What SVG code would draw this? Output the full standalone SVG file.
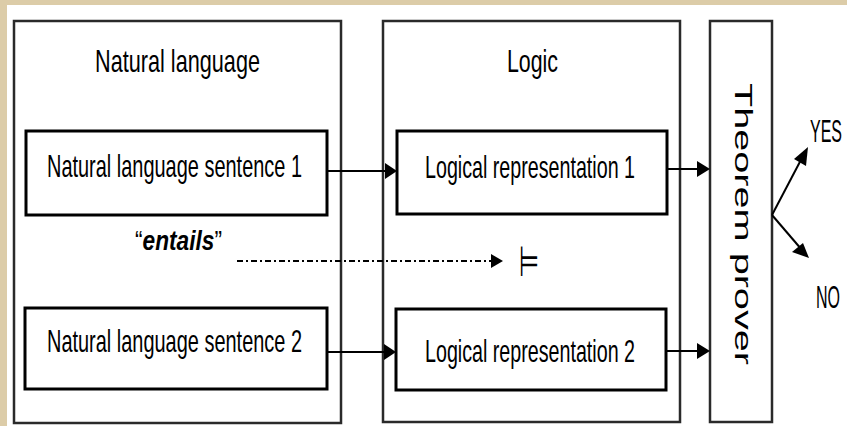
<svg xmlns="http://www.w3.org/2000/svg" width="847" height="426" viewBox="0 0 847 426">
<style>
.outer{fill:none;stroke:#2a2a2a;stroke-width:2.5}
.inner{fill:#fff;stroke:#000;stroke-width:3}
.t{font-family:"Liberation Sans",Arial,sans-serif;fill:#000}
.ln{stroke:#000;stroke-width:2;fill:none}
.hd{fill:#000}
</style>
<rect x="0" y="0" width="847" height="426" fill="#dccca8"/>
<rect x="7" y="5" width="840" height="421" fill="#fff"/>
<g id="nl-group">
<rect class="outer" x="14" y="21" width="327" height="402"/>
<text class="t" x="95" y="72" font-size="32" textLength="165" lengthAdjust="spacingAndGlyphs">Natural language</text>
</g>
<g id="logic-group">
<rect class="outer" x="383" y="21" width="297" height="401"/>
<text class="t" x="507" y="72" font-size="32" textLength="51" lengthAdjust="spacingAndGlyphs">Logic</text>
</g>
<g id="prover">
<rect class="outer" x="710" y="21" width="62" height="401"/>
<text class="t" transform="translate(735,83) rotate(90)" x="0" y="0" font-size="23" textLength="282" lengthAdjust="spacingAndGlyphs">Theorem  prover</text>
</g>
<g id="nl1">
<rect class="inner" x="26" y="131" width="301" height="84"/>
<text class="t" x="47" y="177" font-size="32" textLength="255" lengthAdjust="spacingAndGlyphs">Natural language sentence 1</text>
</g>
<g id="nl2">
<rect class="inner" x="25" y="308" width="302" height="81"/>
<text class="t" x="47" y="352" font-size="32" textLength="255" lengthAdjust="spacingAndGlyphs">Natural language sentence 2</text>
</g>
<g id="lr1">
<rect class="inner" x="397" y="131" width="270" height="83"/>
<text class="t" x="425" y="178" font-size="32" textLength="210" lengthAdjust="spacingAndGlyphs">Logical representation 1</text>
</g>
<g id="lr2">
<rect class="inner" x="396" y="309" width="270" height="81"/>
<text class="t" x="425" y="362" font-size="32" textLength="210" lengthAdjust="spacingAndGlyphs">Logical representation 2</text>
</g>
<g id="entails">
<text class="t" transform="translate(135,250) scale(0.81,1)" font-size="28">“<tspan font-weight="bold" font-style="italic">entails</tspan>”</text>
</g>
<g id="models">
<text transform="translate(519,276) scale(0.55,1)" font-family="DejaVu Sans,sans-serif" font-size="42" fill="#000">⊨</text>
</g>
<g id="outputs">
<text class="t" transform="translate(810,142) scale(0.5,1)" font-size="32">YES</text>
<text class="t" transform="translate(816,308) scale(0.5,1)" font-size="32">NO</text>
</g>
<g id="connectors">
<line class="ln" x1="327" y1="171" x2="386" y2="171"/>
<polygon class="hd" points="385,163 397,171 385,179"/>
<line class="ln" x1="327" y1="352" x2="385" y2="352"/>
<polygon class="hd" points="384,344 396,352 384,360"/>
<line class="ln" x1="667" y1="169" x2="699" y2="169"/>
<polygon class="hd" points="697,161 710,169 697,177"/>
<line class="ln" x1="666" y1="351" x2="699" y2="351"/>
<polygon class="hd" points="697,343 710,351 697,359"/>
<line class="ln" x1="237" y1="261" x2="492" y2="261" stroke-dasharray="6,3,2,3"/>
<polygon class="hd" points="491,254 503,261 491,268"/>
<line class="ln" x1="772" y1="215" x2="803" y2="156"/>
<polygon class="hd" points="808,147 806,166 794,159"/>
<line class="ln" x1="772" y1="215" x2="802" y2="250"/>
<polygon class="hd" points="809,258 792,252 803,243"/>
</g>
</svg>
